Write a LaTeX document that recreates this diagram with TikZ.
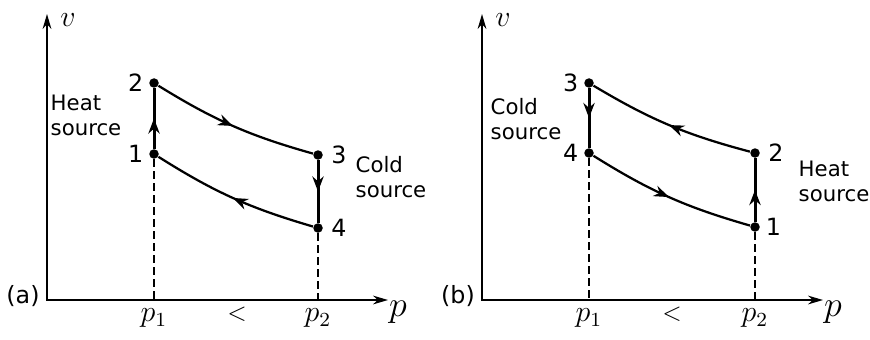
\documentclass[tikz,border=0pt]{standalone}
\usepackage{amsmath}
\usepackage{fontspec}
\setsansfont{DejaVu Sans}
\usetikzlibrary{positioning, arrows.meta, decorations.markings}

\tikzset{
  dot/.style={circle, fill, inner sep=0pt, minimum size=3.8pt},
  num/.style={font=\sffamily\fontsize{9.5}{10}\selectfont, inner sep=1pt},
  src/.style={font=\sffamily\fontsize{8.5}{10}\selectfont, align=left, inner sep=0pt},
  axisline/.style={line width=0.7pt, {Stealth[length=6pt,width=3.5pt]}-{Stealth[length=6pt,width=3.5pt]}},
  cyc/.style={line width=0.9pt},
  vert/.style={line width=1.2pt},
  midarr/.style={postaction={decorate}, decoration={markings, mark=at position 0.5 with {\arrow{Stealth[length=6pt,width=4.5pt]}}}},
  drop/.style={line width=0.55pt, dash pattern=on 3pt off 1.8pt},
}

\begin{document}
\begin{tikzpicture}[x=0.4pt, y=-0.4pt]
\useasboundingbox (0,0) rectangle (870,339);

% (a)
\coordinate (oa) at (47,300);
\coordinate (ya) at (47,14);
\coordinate (xa) at (388,300);
\draw[axisline] (ya) -- (oa) -- (xa);
\node (va) at (68,20) {\large$v$};
\node (pa) at (398,312) {\Large$p$};
\node[num] (taga) at (23,296) {(a)};

\node[dot] (a1) at (154,154) {};
\node[dot] (a2) at (154,83) {};
\node[dot] (a3) at (318,155) {};
\node[dot] (a4) at (318,228) {};
\node[num, left=1pt of a1] {1};
\node[num, left=1pt of a2] {2};
\node[num, right=2pt of a3] {3};
\node[num, right=2pt of a4] {4};

\path[cyc]
  (a1) edge[vert, midarr] (a2)
  (a2) edge[midarr, bend right=8] (a3)
  (a3) edge[vert, midarr] (a4)
  (a4) edge[midarr, bend left=8] (a1);

\coordinate (fa1) at (a1 |- oa);
\coordinate (fa4) at (a4 |- oa);
\draw[drop] (a1) -- (fa1);
\draw[drop] (a4) -- (fa4);
\node (pa1) [below=0pt of fa1] {\large$p_1$};
\node (pa2) [below=0pt of fa4] {\large$p_2$};
\node (lta) at (237,314) {$<$};

\node[src] (heata) at (86,115) {Heat\\source};
\node[src] (colda) at (391,177) {Cold\\source};

% (b)
\coordinate (ob) at (482,300);
\coordinate (yb) at (482,14);
\coordinate (xb) at (823,300);
\draw[axisline] (yb) -- (ob) -- (xb);
\node (vb) at (503,20) {\large$v$};
\node (pb) at (833,312) {\Large$p$};
\node[num] (tagb) at (458,296) {(b)};

\node[dot] (b1) at (755,227) {};
\node[dot] (b2) at (755,153) {};
\node[dot] (b3) at (589,83) {};
\node[dot] (b4) at (589,153) {};
\node[num, right=1pt of b1] {1};
\node[num, right=2pt of b2] {2};
\node[num, left=1pt of b3] {3};
\node[num, left=1pt of b4] {4};

\path[cyc]
  (b1) edge[vert, midarr] (b2)
  (b2) edge[midarr, bend left=8] (b3)
  (b3) edge[vert, midarr] (b4)
  (b4) edge[midarr, bend right=8] (b1);

\coordinate (fb4) at (b4 |- ob);
\coordinate (fb1) at (b1 |- ob);
\draw[drop] (b4) -- (fb4);
\draw[drop] (b1) -- (fb1);
\node (pb1) [below=0pt of fb4] {\large$p_1$};
\node (pb2) [below=0pt of fb1] {\large$p_2$};
\node (ltb) at (672,314) {$<$};

\node[src] (coldb) at (526,119) {Cold\\source};
\node[src] (heatb) at (834,181) {Heat\\source};
\end{tikzpicture}
\end{document}
